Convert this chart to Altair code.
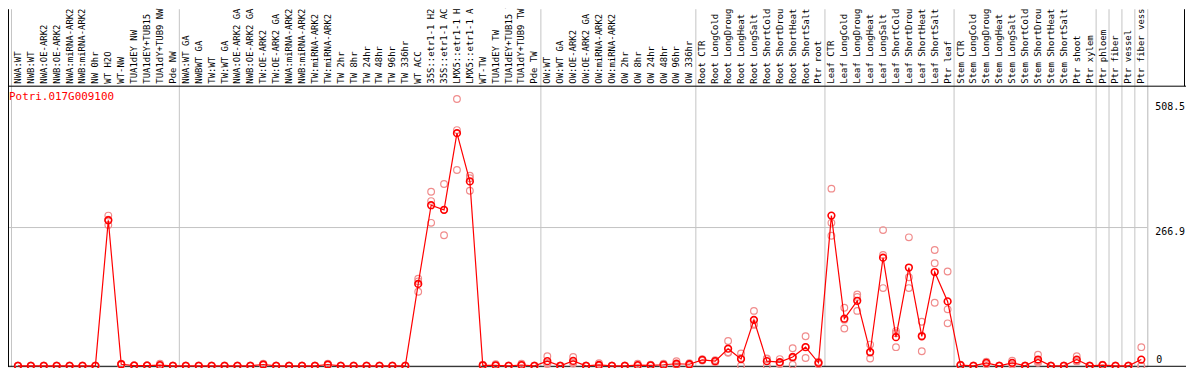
import altair as alt
import pandas as pd

# ---------------- data ----------------
gene_id = "Potri.017G009100"

categories = [
    "NWA:WT", "NWB:WT", "NWA:OE-ARK2", "NWB:OE-ARK2", "NWA:miRNA-ARK2", "NWB:miRNA-ARK2",
    "NW 0hr", "WT H2O", "WT-NW", "TUA1dEY NW", "TUA1dEY+TUB15 NW", "TUA1dY+TUB9 NW", "Pde NW",
    "NWA:WT GA", "NWBWT GA", "TW:WT", "TW:WT GA", "NWA:OE-ARK2 GA", "NWB:OE-ARK2 GA",
    "TW:OE-ARK2", "TW:OE-ARK2 GA", "NWA:miRNA-ARK2", "NWB:miRNA-ARK2", "TW:miRNA-ARK2",
    "TW:miRNA-ARK2", "TW 2hr", "TW 8hr", "TW 24hr", "TW 48hr", "TW 96hr", "TW 336hr",
    "WT ACC", "35S::etr1-1 H2O", "35S::etr1-1 ACC", "LMX5::etr1-1 H2O", "LMX5::etr1-1 ACC",
    "WT-TW", "TUA1dEY TW", "TUA1dEY+TUB15 TW", "TUA1dY+TUB9 TW", "Pde TW",
    "OW:WT", "OW:WT GA", "OW:OE-ARK2", "OW:OE-ARK2 GA", "OW:miRNA-ARK2", "OW:miRNA-ARK2",
    "OW 2hr", "OW 8hr", "OW 24hr", "OW 48hr", "OW 96hr", "OW 336hr",
    "Root CTR", "Root LongCold", "Root LongDrought", "Root LongHeat", "Root LongSalt",
    "Root ShortCold", "Root ShortDrought", "Root ShortHeat", "Root ShortSalt", "Ptr root",
    "Leaf CTR", "Leaf LongCold", "Leaf LongDrought", "Leaf LongHeat", "Leaf LongSalt",
    "Leaf ShortCold", "Leaf ShortDrought", "Leaf ShortHeat", "Leaf ShortSalt", "Ptr leaf",
    "Stem CTR", "Stem LongCold", "Stem LongDrought", "Stem LongHeat", "Stem LongSalt",
    "Stem ShortCold", "Stem ShortDrought", "Stem ShortHeat", "Stem ShortSalt", "Ptr shoot",
    "Ptr xylem", "Ptr phloem", "Ptr fiber", "Ptr vessel", "Ptr fiber vessel",
]

# sizes of the sample groups separated by the grey vertical lines
group_sizes = [13, 28, 12, 10, 10, 11, 1, 1, 1, 1]

means = [
    0, 0, 0, 0, 0, 0, 0, 281, 3, 0.5, 0.5, 1.3, 0,
    0, 0, 0, 0, 0, 0, 2.5, 0, 0, 0, 0, 2.5, 0, 0, 0, 0, 0, 0,
    158, 310, 301, 449, 356, 1, 1, 0, 1.5, 0,
    9, 0, 9.5, 0, 1.7, 0, 0, 1.3, 1, 2, 4, 3,
    11.5, 9, 33, 13, 88.5, 9, 7, 17, 36, 5.7,
    290, 91, 125.5, 26.7, 208.7, 55.3, 189.7, 57, 181, 124.3,
    1.3, 0, 5.7, 0, 5.7, 0, 12.1, 0, 0, 12, 0,
    1.3, 0, 0, 12,
]

rep1 = [
    0, 0, 0, 0, 0, 0, 0, 290, 4, 0.5, 0.5, 4, 0,
    0, 0, 0, 0, 0, 0, 4, 0, 0, 0, 0, 4, 0, 0, 0, 0, 0, 0,
    168, 336, 351, 515, 367, 2, 3, 0, 4, 0,
    18.5, 0, 17, 0, 5, 0, 0, 4, 2, 4, 9, 5,
    13, 11, 48, 24, 106, 14, 13, 34, 57, 8,
    342, 112, 137.6, 41, 262, 67, 248, 85, 223.5, 182,
    2, 0, 8, 0, 10, 0, 21.6, 0, 0, 18.5, 0,
    2, 0, 0, 36,
]
rep2 = [
    0, 0, 0, 0, 0, 0, 0, 282, 3, 0.5, 0.5, 0, 0,
    0, 0, 0, 0, 0, 0, 2.5, 0, 0, 0, 0, 2.5, 0, 0, 0, 0, 0, 0,
    163, 318, 301, 455, 362, 1, 0, 0, 0.5, 0,
    5, 0, 7, 0, 0, 0, 0, 0, 1, 1.5, 2, 3,
    11.5, 9, 26, 15, 80.5, 13, 5, 15, 36, 6,
    276, 89, 133, 25, 214, 63, 171, 58, 198, 109,
    1, 0, 6, 0, 5, 0, 9, 0, 0, 9, 0,
    1, 0, 0, 0,
]
rep3 = [
    0, 0, 0, 0, 0, 0, 0, 272, 2, 0.5, 0.5, 0, 0,
    0, 0, 0, 0, 0, 0, 1, 0, 0, 0, 0, 1, 0, 0, 0, 0, 0, 0,
    143, 276, 252, 378, 338, 0, 0, 0, 0, 0,
    3.5, 0, 4.5, 0, 0, 0, 0, 0, 0, 0.5, 1, 1,
    10, 7, 25, 0, 79, 0, 3, 2, 15, 3,
    251, 72, 106, 14, 150, 36, 150, 28, 121.7, 82,
    1, 0, 3, 0, 2, 0, 5.7, 0, 0, 8.5, 0,
    1, 0, 0, 0,
]

y_tick_values = [508.5, 266.9]
y_zero_tick = 0
y_domain = [-1.9, 540.7]

# ---------------- layout / style ----------------
W, H = 1147, 283          # plot area
TOP, RIGHT = 77, 39       # header (rotated labels) and right label column
FONT = "DejaVu Sans Mono"
RED = "#ff0000"
PINK = "#f08c8c"
GREY = "#c4c4c4"
STEP = 13.0

x_scale = alt.Scale(domain=[-0.5 - 3.5 / STEP, -0.5 - 3.5 / STEP + W / STEP], nice=False, zero=False)
y_scale = alt.Scale(domain=y_domain, nice=False, zero=False)

df = pd.DataFrame({"idx": list(range(len(categories))), "cat": categories, "mean": means})
reps = pd.DataFrame({
    "idx": list(range(len(categories))) * 3,
    "val": rep1 + rep2 + rep3,
})

bounds = [0]
for s in group_sizes:
    bounds.append(bounds[-1] + s)
seps = pd.DataFrame({"pos": [b - 0.5 for b in bounds]})

ticks = pd.DataFrame({"v": y_tick_values, "lab": [str(v) for v in y_tick_values]})
zero_df = pd.DataFrame({"v": [y_zero_tick], "lab": [str(y_zero_tick)]})
one = pd.DataFrame({"a": [0]})
title_df = pd.DataFrame({"t": [gene_id]})

X = lambda f: alt.X(f, scale=x_scale, axis=None)
Y = lambda f: alt.Y(f, scale=y_scale, axis=None)

sep_layer = alt.Chart(seps).mark_rule(color=GREY, strokeWidth=1).encode(
    x=X("pos:Q"), y=alt.value(-TOP), y2=alt.value(H)
)
grid_layer = alt.Chart(ticks.iloc[1:]).mark_rule(color=GREY, strokeWidth=1).encode(
    y=Y("v:Q"), x=alt.value(0), x2=alt.value(W)
)
header_line = alt.Chart(one).mark_rule(color="black", strokeWidth=1).encode(
    x=alt.value(0), x2=alt.value(W + RIGHT), y=alt.value(0.5)
)
bottom_line = alt.Chart(one).mark_rule(color="black", strokeWidth=1).encode(
    x=alt.value(0), x2=alt.value(W + RIGHT), y=alt.value(H - 0.5)
)
left_line = alt.Chart(one).mark_rule(color="black", strokeWidth=1).encode(
    x=alt.value(0.5), y=alt.value(-TOP), y2=alt.value(H)
)
right_line = alt.Chart(one).mark_rule(color="black", strokeWidth=1).encode(
    x=alt.value(W + RIGHT - 1.5), y=alt.value(-TOP), y2=alt.value(0.5)
)

rep_layer = alt.Chart(reps).mark_point(
    shape="circle", filled=False, color=PINK, size=45, strokeWidth=1.2, opacity=1
).encode(x=X("idx:Q"), y=Y("val:Q"))

line_layer = alt.Chart(df).mark_line(color=RED, strokeWidth=1.2).encode(
    x=X("idx:Q"), y=Y("mean:Q")
)
mean_layer = alt.Chart(df).mark_point(
    shape="circle", filled=False, color=RED, size=45, strokeWidth=1.6, opacity=1
).encode(x=X("idx:Q"), y=Y("mean:Q"))

xlabels = alt.Chart(df).mark_text(
    angle=270, align="left", baseline="middle", font=FONT, fontSize=9, color="black"
).encode(x=X("idx:Q"), y=alt.value(-2), text="cat:N")

ylabels = alt.Chart(ticks).mark_text(
    align="left", baseline="top", font=FONT, fontSize=10, color="black"
).encode(y=Y("v:Q"), x=alt.value(W + 8), text="lab:N")

zlabel = alt.Chart(zero_df).mark_text(
    align="left", baseline="alphabetic", dy=-3, font=FONT, fontSize=10, color="black"
).encode(y=Y("v:Q"), x=alt.value(W + 9), text="lab:N")

title_layer = alt.Chart(title_df).mark_text(
    align="left", baseline="top", font=FONT, fontSize=11, color=RED
).encode(x=alt.value(1), y=alt.value(5), text="t:N")

chart = alt.layer(
    sep_layer, grid_layer, header_line, bottom_line, left_line, right_line,
    rep_layer, line_layer, mean_layer, xlabels, ylabels, zlabel, title_layer,
).properties(
    width=W, height=H,
    padding={"left": 0, "top": TOP, "right": RIGHT, "bottom": 0},
    autosize=alt.AutoSizeParams(type="none"),
).configure_view(stroke=None).configure(background="white")

chart.save("out.html", embed_options={"renderer": "svg", "actions": False})
